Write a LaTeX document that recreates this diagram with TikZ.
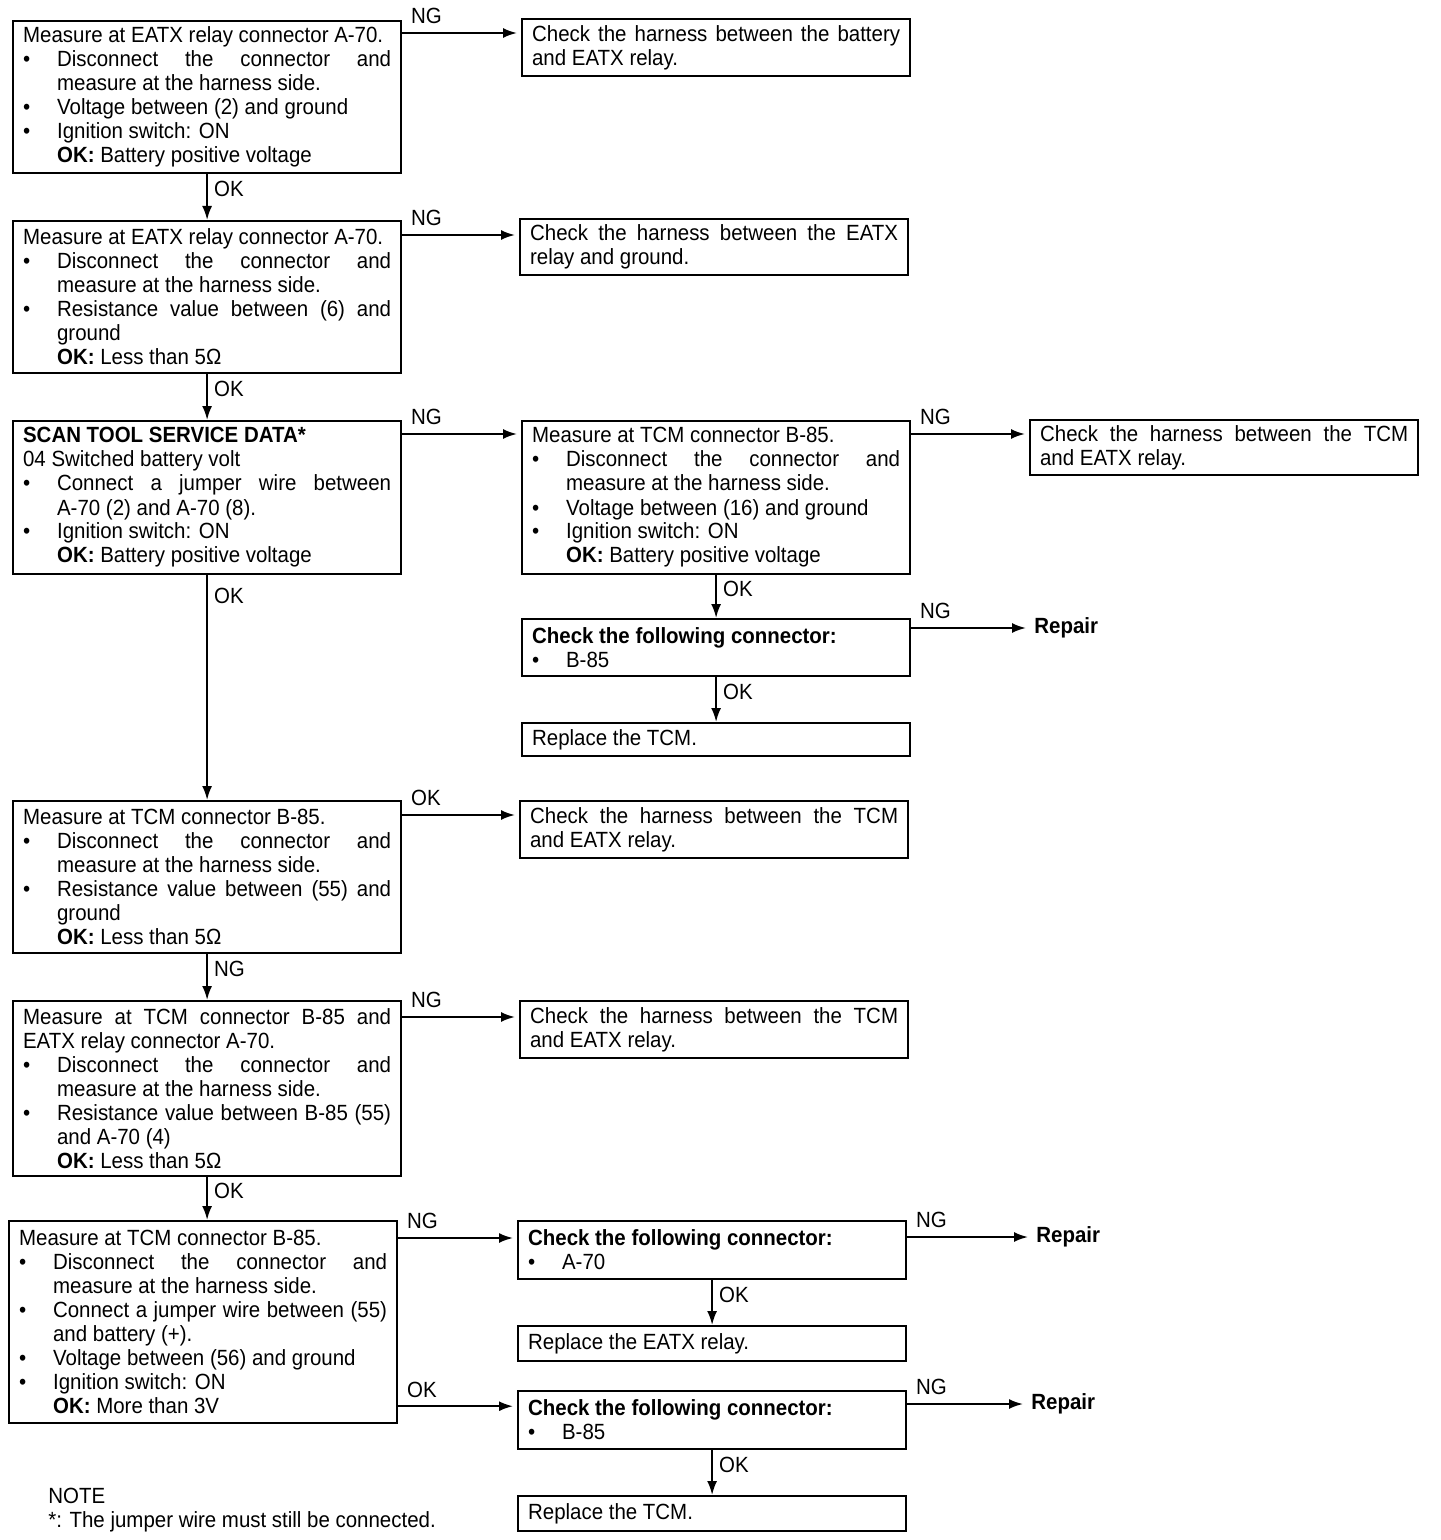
\documentclass[tikz,border=0pt]{standalone}
\usepackage{fontspec}
\setmainfont[FakeStretch=0.93]{Liberation Sans}
\usetikzlibrary{arrows.meta}
\newcommand{\bul}{\par\hangindent=17pt\hangafter=1\noindent\makebox[17pt][l]{\textbullet}}
\newcommand{\okline}{\par\noindent\hspace*{17pt}}
\begin{document}
\begin{tikzpicture}[x=0.5pt, y=-0.5pt,
  every node/.style={font=\fontsize{11}{12}\selectfont},
  box/.style={draw, line width=1.1pt, anchor=north west, inner xsep=5pt, inner ysep=0pt, text width=184pt, align=justify},
  ends/.style={anchor=west, inner sep=2pt, font=\fontsize{11}{12}\selectfont\bfseries},
  arr/.style={line width=1pt, -{Latex[length=7pt, width=5pt]}},
  harr/.style={arr, shorten >=2pt},
  hl/.style={anchor=south west, inner sep=1pt, xshift=3pt, yshift=3pt},
  vl/.style={anchor=west, inner sep=1pt, xshift=2pt}]
\useasboundingbox (0,0) rectangle (1440,1540);
\node[box, minimum height=76pt] (M1) at (12,20) {Measure at EATX relay connector A-70.
\bul Disconnect the connector and\linebreak measure at the harness side.
\bul Voltage between (2) and ground
\bul Ignition switch: ON
\okline\textbf{OK:} Battery positive voltage};
\node[box, minimum height=28.5pt] (H1) at (521,18) {Check the harness between the battery\linebreak and EATX relay.};
\node[box, minimum height=76pt] (M2) at (12,220) {Measure at EATX relay connector A-70.
\bul Disconnect the connector and\linebreak measure at the harness side.
\bul Resistance value between (6) and\linebreak ground
\okline\textbf{OK:} Less than 5Ω};
\node[box, minimum height=28pt] (H2) at (519,218) {Check the harness between the EATX\linebreak relay and ground.};
\node[box, minimum height=76.5pt] (S3) at (12,420) {\textbf{SCAN TOOL SERVICE DATA*}\par
04 Switched battery volt
\bul Connect a jumper wire between\linebreak A-70 (2) and A-70 (8).
\bul Ignition switch: ON
\okline\textbf{OK:} Battery positive voltage};
\node[box, minimum height=76.5pt] (T1) at (521,420) {Measure at TCM connector B-85.
\bul Disconnect the connector and\linebreak measure at the harness side.
\bul Voltage between (16) and ground
\bul Ignition switch: ON
\okline\textbf{OK:} Battery positive voltage};
\node[box, minimum height=27.5pt] (H3) at (1029,419) {Check the harness between the TCM\linebreak and EATX relay.};
\node[box, minimum height=28.5pt] (C1) at (521,618) {\textbf{Check the following connector:}
\bul B-85};
\node[ends] (R1) at (1030,628) {Repair};
\node[box, minimum height=16.5pt] (P1) at (521,722) {Replace the TCM.};
\node[box, minimum height=76pt] (M4) at (12,800) {Measure at TCM connector B-85.
\bul Disconnect the connector and\linebreak measure at the harness side.
\bul Resistance value between (55) and\linebreak ground
\okline\textbf{OK:} Less than 5Ω};
\node[box, minimum height=28.5pt] (H4) at (519,800) {Check the harness between the TCM\linebreak and EATX relay.};
\node[box, minimum height=87.5pt] (M5) at (12,1000) {Measure at TCM connector B-85 and\linebreak EATX relay connector A-70.
\bul Disconnect the connector and\linebreak measure at the harness side.
\bul Resistance value between B-85 (55)\linebreak and A-70 (4)
\okline\textbf{OK:} Less than 5Ω};
\node[box, minimum height=28.5pt] (H5) at (519,1000) {Check the harness between the TCM\linebreak and EATX relay.};
\node[box, minimum height=101pt] (M6) at (8,1220) {Measure at TCM connector B-85.
\bul Disconnect the connector and\linebreak measure at the harness side.
\bul Connect a jumper wire between (55)\linebreak and battery (+).
\bul Voltage between (56) and ground
\bul Ignition switch: ON
\okline\textbf{OK:} More than 3V};
\node[box, minimum height=29pt] (C2) at (517,1220) {\textbf{Check the following connector:}
\bul A-70};
\node[ends] (R2) at (1032,1237) {Repair};
\node[box, minimum height=17.5pt] (P2) at (517,1325) {Replace the EATX relay.};
\node[box, minimum height=29pt] (C3) at (517,1390) {\textbf{Check the following connector:}
\bul B-85};
\node[ends] (R3) at (1027,1404) {Repair};
\node[box, minimum height=17.5pt] (P3) at (517,1495) {Replace the TCM.};
\node[anchor=north west, inner sep=0pt, align=left] (N1) at (48,1488) {NOTE\\*: The jumper wire must still be connected.};
\draw[harr] ([yshift=-6.5pt]M1.north east) coordinate (a1) node[hl] {NG} -- (a1 -| H1.west);
\draw[harr] ([yshift=-7.5pt]M2.north east) coordinate (a2) node[hl] {NG} -- (a2 -| H2.west);
\draw[harr] ([yshift=-7pt]S3.north east) coordinate (a3) node[hl] {NG} -- (a3 -| T1.west);
\draw[harr] ([yshift=-7pt]T1.north east) coordinate (a4) node[hl] {NG} -- (a4 -| H3.west);
\draw[harr] ([yshift=-5pt]C1.north east) coordinate (a5) node[hl] {NG} -- (a5 -| R1.west);
\draw[harr] ([yshift=-7.5pt]M4.north east) coordinate (a6) node[hl] {OK} -- (a6 -| H4.west);
\draw[harr] ([yshift=-8.5pt]M5.north east) coordinate (a7) node[hl] {NG} -- (a7 -| H5.west);
\draw[harr] ([yshift=-9pt]M6.north east) coordinate (a8) node[hl] {NG} -- (a8 -| C2.west);
\draw[harr] ([yshift=9pt]M6.south east) coordinate (a9) node[hl] {OK} -- (a9 -| C3.west);
\draw[harr] ([yshift=-8.5pt]C2.north east) coordinate (a10) node[hl] {NG} -- (a10 -| R2.west);
\draw[harr] ([yshift=-7pt]C3.north east) coordinate (a11) node[hl] {NG} -- (a11 -| R3.west);
\draw[arr] (M1.south) -- (M2.north) node[vl, pos=0.33] {OK};
\draw[arr] (M2.south) -- (S3.north) node[vl, pos=0.33] {OK};
\draw[arr] (S3.south) -- (M4.north) node[vl, pos=0.09] {OK};
\draw[arr] (M4.south) -- (M4.south |- M5.north) node[vl, pos=0.33] {NG};
\draw[arr] (M5.south) -- (M5.south |- M6.north) node[vl, pos=0.33] {OK};
\draw[arr] (T1.south) -- (C1.north) node[vl, pos=0.33] {OK};
\draw[arr] (C1.south) -- (P1.north) node[vl, pos=0.33] {OK};
\draw[arr] (C2.south) -- (P2.north) node[vl, pos=0.33] {OK};
\draw[arr] (C3.south) -- (P3.north) node[vl, pos=0.33] {OK};
\end{tikzpicture}
\end{document}
